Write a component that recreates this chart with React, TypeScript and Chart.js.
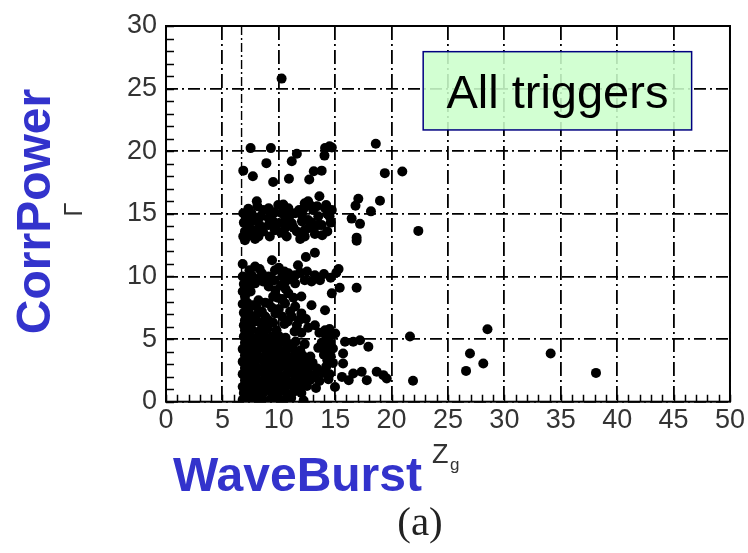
import React, { useEffect, useRef } from "react";
import { Chart, registerables } from "chart.js";

Chart.register(...registerables);

// ---- axis / annotation values ----
const xMin = 0;
const xMax = 50;
const yMin = 0;
const yMax = 30;
const majorStep = 5;
const minorStep = 1;
const thresholdZg = 6.7;
const xTitle = "WaveBurst";
const yTitle = "CorrPower";
const xSymbol = "Z";
const xSymbolSub = "g";
const ySymbol = "Γ";
const panelLabel = "(a)";
const boxText = "All triggers";
const boxRange = { x0: 22.8, x1: 46.6, y0: 21.7, y1: 27.95 };

// ---- data: [Z_g, Γ] pairs ----
const triggersLow: [number, number][] = [
  [6.8, 0.15], [7.3, 0.3], [7.9, 0.1], [8.5, 0.25], [9.2, 0.15], [9.8, 0.35], [10.4, 0.1], [11.1, 0.3], [12.2, 0.1],
  [6.9, 0.7], [7.5, 0.75], [8.1, 0.65], [8.7, 0.8], [9.4, 0.7], [10.0, 0.75], [10.7, 0.65], [11.3, 0.8], [12.0, 0.7],
  [6.8, 1.2], [7.4, 1.25], [8.0, 1.15], [8.6, 1.3], [9.2, 1.2], [9.9, 1.25], [10.5, 1.15], [11.2, 1.3], [11.8, 1.2], [12.5, 1.25], [13.3, 1.1],
  [7.0, 1.7], [7.6, 1.75], [8.3, 1.65], [8.9, 1.8], [9.5, 1.7], [10.2, 1.75], [10.8, 1.65], [11.5, 1.8], [12.1, 1.7], [12.8, 1.75], [13.6, 1.65], [14.4, 1.8],
  [6.8, 2.2], [7.4, 2.25], [8.0, 2.15], [8.7, 2.3], [9.3, 2.2], [9.9, 2.25], [10.6, 2.15], [11.2, 2.3], [11.9, 2.2], [12.6, 2.25], [13.2, 2.15], [13.9, 2.3], [14.5, 2.2],
  [7.0, 2.7], [7.6, 2.75], [8.2, 2.65], [8.8, 2.8], [9.5, 2.7], [10.1, 2.75], [10.8, 2.65], [11.4, 2.8], [12.0, 2.7], [12.7, 2.75], [13.4, 2.65], [14.2, 2.8],
  [6.8, 3.2], [7.3, 3.25], [7.9, 3.15], [8.6, 3.3], [9.2, 3.2], [9.8, 3.25], [10.5, 3.15], [11.1, 3.3], [11.8, 3.2], [12.4, 3.25], [13.0, 3.1], [14.3, 3.3], [14.8, 3.1],
  [7.0, 3.7], [7.6, 3.75], [8.2, 3.65], [8.9, 3.8], [9.5, 3.7], [10.2, 3.75], [10.8, 3.65], [11.5, 3.8], [12.1, 3.7], [12.8, 3.6], [14.0, 3.75], [14.6, 3.65],
  [6.8, 4.2], [7.4, 4.25], [8.0, 4.15], [8.6, 4.3], [9.3, 4.2], [9.9, 4.25], [10.6, 4.15], [11.2, 4.3], [11.9, 4.1], [13.5, 4.3], [14.2, 4.2], [14.8, 4.25],
  [7.0, 4.7], [7.7, 4.75], [8.3, 4.65], [8.9, 4.8], [9.6, 4.7], [10.2, 4.75], [10.9, 4.6], [11.5, 4.8], [12.3, 4.6], [13.8, 4.7], [14.5, 4.75],
  [6.9, 5.2], [7.4, 5.25], [8.1, 5.15], [8.7, 5.3], [9.4, 5.2], [10.0, 5.25], [10.6, 5.1], [14.2, 5.2], [14.7, 5.3], [12.0, 5.5], [11.4, 5.6],
  [7.0, 5.7], [7.6, 5.75], [8.3, 5.65], [9.0, 5.8], [9.8, 5.7], [14.5, 5.8], [13.6, 5.5], [12.6, 5.9],
  [6.9, 6.1], [7.5, 6.2], [8.6, 6.0], [9.5, 6.3], [10.5, 6.2], [11.6, 6.1], [13.2, 6.1], [14.1, 5.7], [15.0, 5.45],
];

const triggersMid: [number, number][] = [
  [6.8, 11.0], [7.9, 10.8], [9.4, 11.3], [11.7, 10.9], [9.66, 10.5], [10.5, 10.4],
  [6.8, 10.0], [7.6, 10.1], [8.5, 10.25], [9.1, 10.0], [10.3, 10.0], [10.85, 10.25], [11.45, 10.1], [12.3, 9.7], [12.9, 9.6], [13.65, 9.7], [15.1, 10.3], [15.3, 10.6],
  [7.2, 9.6], [8.0, 9.8], [6.9, 9.4], [9.6, 9.7], [10.2, 9.3],
  [11.45, 9.45], [10.85, 8.65], [12.0, 8.4], [12.9, 7.7], [11.45, 7.6], [10.55, 7.85], [14.7, 8.65], [14.1, 7.3], [15.4, 9.1], [16.9, 9.1],
  [7.0, 9.2], [7.9, 9.45], [9.1, 9.2], [9.7, 8.9], [7.0, 8.4], [8.2, 8.1], [9.1, 7.85], [7.3, 7.3], [8.5, 7.2], [9.7, 7.05], [10.3, 6.8],
  [7.0, 6.5], [7.9, 6.4], [9.1, 6.5], [11.15, 6.8], [12.0, 7.05],
  [7.5, 8.8], [6.8, 7.8], [7.7, 7.7], [9.9, 8.3], [10.6, 9.0], [8.0, 6.9], [6.9, 7.1], [11.0, 7.2], [12.4, 6.6],
  [7.4, 10.5], [8.3, 10.6], [10.0, 10.7], [11.0, 9.8], [11.9, 10.3], [7.6, 6.8], [8.8, 6.8], [9.4, 7.5], [10.0, 7.4],
  [10.8, 6.4], [7.2, 7.9], [8.0, 7.6], [8.8, 7.9], [9.5, 8.4], [10.3, 8.2], [11.3, 8.3], [7.4, 9.0], [6.8, 8.8],
  [8.6, 9.6], [9.3, 9.9], [10.6, 9.6], [12.5, 10.4], [13.2, 10.1], [14.0, 10.2], [14.6, 9.9], [8.4, 6.3], [11.8, 6.5],
];

const triggersHigh: [number, number][] = [
  [7.5, 20.25], [9.3, 20.25], [14.1, 20.25], [14.5, 20.4], [14.7, 20.3], [14.05, 19.65], [11.6, 19.8], [11.15, 19.2], [8.9, 19.05],
  [6.85, 18.45], [7.7, 18.0], [9.5, 17.55], [10.9, 17.8], [12.7, 17.75], [13.1, 18.4], [13.8, 18.45],
  [8.05, 16.0], [13.6, 16.4],
  [9.1, 15.45], [9.95, 15.7], [10.4, 15.75], [10.85, 15.45], [12.3, 15.85], [12.6, 16.0], [12.9, 15.6], [14.1, 15.45], [14.7, 15.3],
  [11.45, 15.05], [10.25, 15.05], [9.2, 15.25], [12.2, 15.4], [13.05, 15.3], [14.2, 15.7],
  [6.85, 15.05], [7.15, 14.65], [7.6, 14.4], [8.05, 14.5], [7.3, 14.0], [7.9, 13.7], [7.0, 13.6], [8.2, 13.2], [6.85, 13.2],
  [7.0, 12.9], [7.9, 13.0], [7.5, 13.3], [8.3, 14.1], [6.9, 14.3], [7.6, 15.0], [8.4, 14.8],
  [9.1, 14.65], [9.1, 14.1], [10.0, 14.25], [10.55, 14.5], [11.15, 14.25], [10.55, 13.85], [9.65, 13.7], [10.7, 13.2], [11.6, 13.6],
  [12.05, 14.9], [12.05, 14.4], [12.6, 14.5], [12.6, 13.85], [12.3, 13.2], [12.3, 13.7], [13.05, 13.85], [13.5, 14.8], [13.5, 14.1],
  [13.8, 14.1], [13.85, 13.3], [14.5, 14.8], [14.3, 15.0],
  [12.4, 11.55], [13.2, 11.9],
  [8.6, 15.3], [9.6, 15.1], [11.0, 14.9], [11.8, 15.3], [13.4, 15.6], [9.5, 14.4], [10.2, 13.5], [11.3, 13.9], [12.9, 14.3],
  [13.2, 13.4], [14.6, 14.3], [8.6, 13.6], [9.2, 13.2], [11.9, 13.0], [14.3, 13.6], [7.3, 15.4], [8.1, 15.6],
];

const triggersOutlying: [number, number][] = [
  [10.25, 25.8],
  [17.05, 16.2], [18.97, 16.05], [16.8, 15.65], [18.17, 15.2], [16.46, 14.62], [17.2, 14.2], [16.9, 13.1], [16.9, 12.85],
  [22.37, 13.64], [18.6, 20.6], [19.4, 18.25], [20.95, 18.38],
  [21.63, 5.2], [28.5, 5.78], [26.95, 3.85], [28.13, 3.05], [26.6, 2.46], [21.9, 1.67], [34.1, 3.85], [38.12, 2.3],
  [17.94, 4.39], [15.87, 4.79], [16.6, 4.79], [15.7, 3.85], [15.7, 3.05], [15.6, 1.98], [16.2, 1.72], [16.6, 2.25],
  [17.35, 2.39], [17.8, 1.72], [18.68, 2.39], [19.27, 2.12], [19.57, 1.85], [14.98, 1.18], [17.2, 4.9],
];

const seriesList = [triggersLow, triggersMid, triggersHigh, triggersOutlying];

const SANS = "'Liberation Sans', Arial, sans-serif";
const SERIF = "'Liberation Serif', 'Times New Roman', serif";
const BLUE = "rgb(51,51,204)";

const decorPlugin = {
  id: "decor",
  beforeDatasetsDraw(chart: any) {
    const { ctx, chartArea: a, scales } = chart;
    const x = scales.x;
    const y = scales.y;
    ctx.save();
    const tx = x.getPixelForValue(thresholdZg);
    ctx.strokeStyle = "#000";
    ctx.lineWidth = 1.4;
    ctx.setLineDash([9, 3, 2, 3]);
    ctx.beginPath();
    ctx.moveTo(tx, a.top);
    ctx.lineTo(tx, a.bottom);
    ctx.stroke();
    ctx.setLineDash([]);
    ctx.lineWidth = 1.5;
    ctx.beginPath();
    for (let v = xMin; v <= xMax; v += minorStep) {
      const px = Math.round(x.getPixelForValue(v)) + 0.5;
      ctx.moveTo(px, a.bottom);
      ctx.lineTo(px, a.bottom - 7);
    }
    for (let v = yMin; v <= yMax; v += minorStep) {
      const py = Math.round(y.getPixelForValue(v)) + 0.5;
      ctx.moveTo(a.left, py);
      ctx.lineTo(a.left + 8, py);
    }
    ctx.stroke();
    ctx.lineWidth = 2;
    ctx.strokeRect(a.left, a.top, a.right - a.left, a.bottom - a.top);
    ctx.restore();
  },
  afterDatasetsDraw(chart: any) {
    const { ctx, scales } = chart;
    const x = scales.x;
    const y = scales.y;
    const left = x.getPixelForValue(boxRange.x0);
    const right = x.getPixelForValue(boxRange.x1);
    const top = y.getPixelForValue(boxRange.y1);
    const bottom = y.getPixelForValue(boxRange.y0);
    ctx.save();
    ctx.fillStyle = "rgba(204,255,204,0.88)";
    ctx.fillRect(left, top, right - left, bottom - top);
    ctx.strokeStyle = "#000080";
    ctx.lineWidth = 1.5;
    ctx.strokeRect(left, top, right - left, bottom - top);
    ctx.fillStyle = "#000";
    ctx.font = `47px ${SANS}`;
    ctx.textAlign = "center";
    ctx.textBaseline = "alphabetic";
    ctx.fillText(boxText, (left + right) / 2, (top + bottom) / 2 + 17.5);
    ctx.restore();
  },
  afterDraw(chart: any) {
    const { ctx } = chart;
    ctx.save();
    ctx.fillStyle = BLUE;
    ctx.font = `bold 48px ${SANS}`;
    ctx.textAlign = "center";
    ctx.textBaseline = "alphabetic";
    ctx.save();
    ctx.translate(50, 211.5);
    ctx.rotate(-Math.PI / 2);
    ctx.fillText(yTitle, 0, 0);
    ctx.restore();
    ctx.fillStyle = "#333";
    ctx.font = `26px ${SANS}`;
    ctx.save();
    ctx.translate(82, 209.5);
    ctx.rotate(-Math.PI / 2);
    ctx.fillText(ySymbol, 0, 0);
    ctx.restore();
    ctx.fillStyle = BLUE;
    ctx.font = `bold 48px ${SANS}`;
    ctx.fillText(xTitle, 297.5, 491);
    ctx.fillStyle = "#333";
    ctx.textAlign = "left";
    ctx.font = `27px ${SANS}`;
    ctx.fillText(xSymbol, 432, 463);
    ctx.font = `17px ${SANS}`;
    ctx.fillText(xSymbolSub, 450, 470);
    ctx.fillStyle = "#222";
    ctx.textAlign = "center";
    ctx.font = `41px ${SERIF}`;
    ctx.fillText(panelLabel, 420, 535);
    ctx.restore();
  },
};

export default function App() {
  const canvasRef = useRef<HTMLCanvasElement | null>(null);

  useEffect(() => {
    document.body.style.margin = "0";
    const canvas = canvasRef.current;
    if (!canvas) return;
    const tickFont = { family: SANS, size: 27 };
    const chart = new Chart(canvas, {
      type: "scatter",
      data: {
        datasets: seriesList.map((pts, i) => ({
          label: `triggers-${i}`,
          data: pts.map(([zx, gy]) => ({ x: zx, y: gy })),
          backgroundColor: "#000",
          borderColor: "#000",
          borderWidth: 0,
          pointRadius: 5,
          pointHoverRadius: 5,
        })),
      },
      options: {
        animation: false,
        responsive: false,
        maintainAspectRatio: false,
        layout: { padding: { left: 0, right: 18, top: 26, bottom: 0 } },
        plugins: { legend: { display: false }, tooltip: { enabled: false } },
        scales: {
          x: {
            type: "linear",
            min: xMin,
            max: xMax,
            ticks: { stepSize: majorStep, padding: 3, color: "#333", font: tickFont, maxRotation: 0, autoSkip: false },
            grid: { color: "#000", lineWidth: 1.8, drawTicks: false },
            border: { display: false, dash: [14, 4, 2, 4] },
            afterFit: (s: any) => {
              s.height = 553 - 401.7;
            },
          },
          y: {
            type: "linear",
            min: yMin,
            max: yMax,
            ticks: { stepSize: majorStep, padding: 9, color: "#333", font: tickFont, autoSkip: false },
            grid: { color: "#000", lineWidth: 1.8, drawTicks: false },
            border: { display: false, dash: [12, 4, 2, 4] },
            afterFit: (s: any) => {
              s.width = 166;
            },
          },
        },
      },
      plugins: [decorPlugin],
    });
    return () => chart.destroy();
  }, []);

  return (
    <div style={{ width: 748, height: 553, position: "relative", background: "#fff" }}>
      <canvas ref={canvasRef} width={748} height={553} style={{ width: 748, height: 553, display: "block" }} />
    </div>
  );
}
